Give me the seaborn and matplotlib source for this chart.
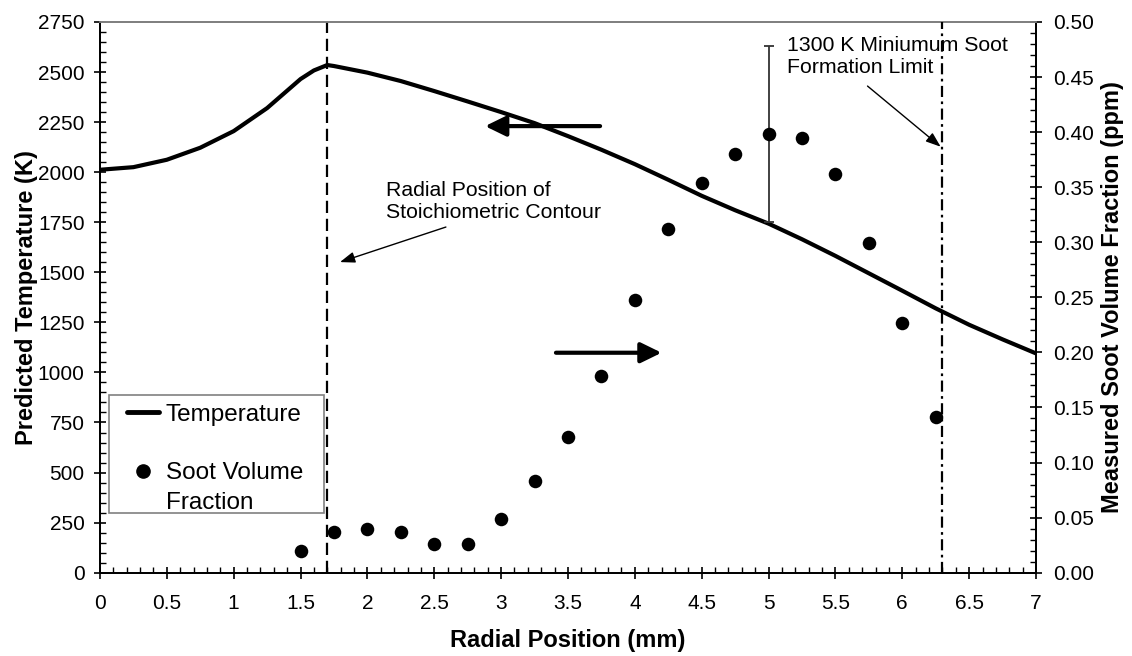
import numpy as np
import pandas as pd
import matplotlib
matplotlib.use("Agg")
import matplotlib.pyplot as plt
from matplotlib.lines import Line2D
from matplotlib.patches import Rectangle
from matplotlib.ticker import MultipleLocator, FormatStrFormatter
import seaborn as sns

# ---------------- data ----------------
temp_r = [0, 0.25, 0.5, 0.75, 1.0, 1.25, 1.5, 1.6, 1.7, 1.75, 2.0, 2.25, 2.5, 2.75,
          3.0, 3.25, 3.5, 3.75, 4.0, 4.25, 4.5, 4.75, 5.0, 5.25, 5.5, 5.75,
          6.0, 6.25, 6.5, 6.75, 7.0]
temp_K = [2012, 2025, 2062, 2122, 2205, 2320, 2465, 2508, 2535, 2530, 2497, 2455,
          2405, 2353, 2300, 2245, 2180, 2112, 2040, 1962, 1882, 1810, 1743, 1665,
          1582, 1495, 1408, 1320, 1238, 1165, 1095]

soot_r = [1.5, 1.75, 2.0, 2.25, 2.5, 2.75, 3.0, 3.25, 3.5, 3.75, 4.0, 4.25,
          4.5, 4.75, 5.0, 5.25, 5.5, 5.75, 6.0, 6.25]
soot_fv = [0.020, 0.037, 0.040, 0.037, 0.026, 0.026, 0.049, 0.083, 0.123, 0.179,
           0.248, 0.312, 0.354, 0.380, 0.398, 0.395, 0.362, 0.299, 0.227, 0.141]

err_r = [5.0]
err_fv = [0.398]
err_half = [0.08]

stoich_r = 1.7
limit_r = 6.3

x_ticks = [0, 0.5, 1, 1.5, 2, 2.5, 3, 3.5, 4, 4.5, 5, 5.5, 6, 6.5, 7]
x_tick_labels = ["0", "0.5", "1", "1.5", "2", "2.5", "3", "3.5", "4", "4.5",
                 "5", "5.5", "6", "6.5", "7"]

temp_df = pd.DataFrame({"r": temp_r, "T": temp_K})
soot_df = pd.DataFrame({"r": soot_r, "fv": soot_fv})

# ---------------- style ----------------
sns.set_theme(style="white")
plt.rcParams["font.family"] = ["Liberation Sans", "DejaVu Sans"]
for key in ("text.color", "axes.labelcolor", "xtick.color", "ytick.color"):
    plt.rcParams[key] = "black"

fig = plt.figure(figsize=(11.32, 6.56), dpi=100)
ax = fig.add_axes([0.0883, 0.127, 0.8269, 0.8395])
ax2 = ax.twinx()

sns.lineplot(data=temp_df, x="r", y="T", ax=ax, color="black", linewidth=3,
             label="Temperature", legend=False, zorder=3)
sns.scatterplot(data=soot_df, x="r", y="fv", ax=ax2, color="black", s=95,
                edgecolor="black", linewidth=0, legend=False, zorder=4)
ax2.errorbar(err_r, err_fv, yerr=err_half, fmt="none", ecolor="#333333",
             elinewidth=1.3, capsize=3.3, capthick=1.3, zorder=3)

ax.set_xlim(0, 7)
ax.set_ylim(0, 2750)
ax2.set_ylim(0, 0.5)

ax.set_xticks(x_ticks)
ax.set_xticklabels(x_tick_labels)
ax.xaxis.set_minor_locator(MultipleLocator(0.1))
ax.yaxis.set_major_locator(MultipleLocator(250))
ax.yaxis.set_minor_locator(MultipleLocator(50))
ax2.yaxis.set_major_locator(MultipleLocator(0.05))
ax2.yaxis.set_minor_locator(MultipleLocator(0.01))
ax2.yaxis.set_major_formatter(FormatStrFormatter("%.2f"))

for a in (ax, ax2):
    a.tick_params(which="major", direction="inout", length=8, width=1.2,
                  color="black", labelsize=15, labelcolor="black")
    a.tick_params(which="minor", direction="in", length=4.3, width=1.0,
                  color="black")
    for side in ("left", "right", "bottom"):
        a.spines[side].set_color("black")
        a.spines[side].set_linewidth(1.3)
    a.spines["top"].set_color("#808080")
    a.spines["top"].set_linewidth(1.3)
    a.grid(False)

ax.tick_params(axis="x", which="both", bottom=True, top=False, pad=11)
ax.tick_params(axis="y", which="both", left=True, right=False, pad=7)
ax2.tick_params(axis="y", which="both", right=True, left=False, pad=8)

ax.set_xlabel("Radial Position (mm)", fontsize=17, fontweight="bold",
              labelpad=12)
ax.set_ylabel("Predicted Temperature (K)", fontsize=17, fontweight="bold",
              labelpad=0)
ax2.set_ylabel("Measured Soot Volume Fraction (ppm)", fontsize=17,
               fontweight="bold", labelpad=5)

# vertical reference lines
ax2.axvline(stoich_r, color="black", linewidth=1.6, linestyle=(0, (5.5, 2.6)),
            zorder=2)
ax2.axvline(limit_r, color="black", linewidth=1.6,
            linestyle=(0, (5, 2, 1.2, 2)), zorder=5)

# annotations
ax.text(2.14, 1855, "Radial Position of\nStoichiometric Contour", fontsize=15.3,
        ha="left", va="center", linespacing=1.22, color="black")
ax.annotate("", xy=(1.795, 1551), xytext=(2.587, 1726),
            arrowprops=dict(arrowstyle="-|>,head_length=0.6,head_width=0.22",
                            color="black", lw=1.0, mutation_scale=15,
                            shrinkA=0, shrinkB=0))
ax.text(5.136, 2578, "1300 K Miniumum Soot\nFormation Limit", fontsize=15.3,
        ha="left", va="center", linespacing=1.22, color="black", zorder=1)
ax.annotate("", xy=(6.287, 2127), xytext=(5.74, 2430),
            arrowprops=dict(arrowstyle="-|>,head_length=0.6,head_width=0.22",
                            color="black", lw=1.0, mutation_scale=15,
                            shrinkA=0, shrinkB=0))

# big direction arrows
ax.annotate("", xy=(2.88, 2230), xytext=(3.74, 2230),
            arrowprops=dict(arrowstyle="-|>,head_length=0.45,head_width=0.22",
                            color="black", lw=3, mutation_scale=28,
                            shrinkA=0, shrinkB=0))
ax2.annotate("", xy=(4.2, 0.1997), xytext=(3.41, 0.1997),
             arrowprops=dict(arrowstyle="-|>,head_length=0.45,head_width=0.22",
                             color="black", lw=3, mutation_scale=28,
                             shrinkA=0, shrinkB=0))

# legend (frame drawn as a separate box to match the wide padding)
box = Rectangle((0.0096, 0.1079), 0.2297, 0.2148, transform=ax2.transAxes,
                facecolor="white", edgecolor="#808080", linewidth=1.2,
                zorder=6)
ax2.add_patch(box)
blank = Line2D([], [], linestyle="none", marker=None)
h_temp = Line2D([], [], color="black", linewidth=3.5)
h_soot = Line2D([], [], color="black", marker="o", linestyle="none",
                markersize=9.5)
leg = ax2.legend([h_temp, blank, h_soot, blank],
                 ["Temperature", " ", "Soot Volume", "Fraction"],
                 loc="upper left", bbox_to_anchor=(0.029, 0.307),
                 borderaxespad=0, fontsize=17.5, frameon=False,
                 handlelength=1.3, handletextpad=0.3, labelspacing=0.3,
                 borderpad=0)
leg.set_zorder(7)

fig.savefig("out.png", dpi=100)
